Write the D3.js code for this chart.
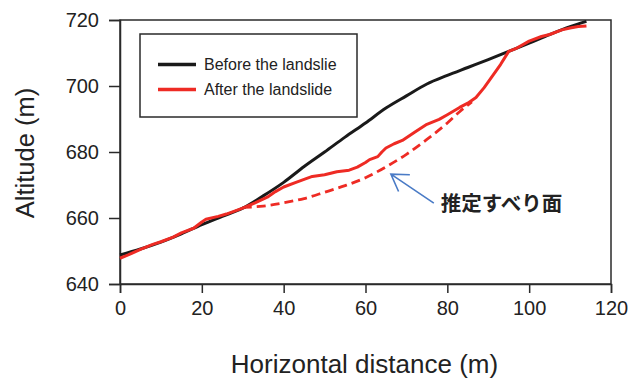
<!DOCTYPE html>
<html><head><meta charset="utf-8">
<script src="https://cdn.jsdelivr.net/npm/d3@7"></script>
<style>body{margin:0;background:#fff}svg{display:block}</style>
</head><body>
<svg id="c" width="644" height="381"></svg>
<script>
const xTicks = [0,20,40,60,80,100,120];
const yTicks = [640,660,680,700,720];
const beforeX = [0,5,10,15,20,25,30,35,40,45,50,55,60,65,70,75,80,85,90,95,100,105,110,114];
const beforeY = [648.8,650.6,652.7,655.2,658,660.5,663,666.7,670.8,675.6,680,684.5,688.8,693.3,697,700.6,703.2,705.6,708,710.5,713,715.6,718,719.6];
const afterX = [0,2,5,8,10,13,15,18,20,21,24,26,30,33,36,38,40,43,45,47,50,53,56,58,60,61,63,64,65,67,69,72,75,78,80,83,85,87,89,91,93,95,97,100,103,105,108,110,112,114];
const afterY = [647.8,648.8,650.5,652,652.8,654.2,655.5,656.9,658.8,659.6,660.5,661.2,663,664.6,666.3,668,669.4,670.8,671.7,672.6,673.1,674,674.5,675.4,676.8,677.7,678.6,680,681.2,682.5,683.5,686,688.4,689.9,691.3,693.5,694.8,696.5,699.5,703,706.5,710.5,711.5,713.6,715,715.6,717,717.6,718,718.2];
const slipX = [30,35,40,45,50,55,60,65,70,75,80,83,86];
const slipY = [663.2,663.6,664.6,665.9,667.8,669.8,672.2,675.5,679.3,683.8,688.8,692.2,695.2];
const legendLabels = ["Before the landslie","After the landslide"];
const annotation = "推定すべり面";

const svg = d3.select("#c");
const L=120,R=611,T=20,B=284;
const x = d3.scaleLinear().domain([0,120]).range([L,R]);
const y = d3.scaleLinear().domain([640,720]).range([B,T]);
const font = "Arial, 'Liberation Sans', sans-serif";
const axc = "#2a2a2a";

svg.append("rect").attr("x",L).attr("y",T).attr("width",R-L).attr("height",B-T)
  .attr("fill","none").attr("stroke",axc).attr("stroke-width",1.5);

const xa = svg.append("g").attr("transform",`translate(0,${B})`)
  .call(d3.axisBottom(x).tickValues(xTicks).tickSize(9).tickPadding(8).tickFormat(d3.format("d")));
const ya = svg.append("g").attr("transform",`translate(${L},0)`)
  .call(d3.axisLeft(y).tickValues(yTicks).tickSize(11).tickPadding(10).tickFormat(d3.format("d")));
[xa,ya].forEach(a=>{
  a.select(".domain").attr("stroke",axc).attr("stroke-width",1.5);
  a.selectAll(".tick line").attr("stroke",axc).attr("stroke-width",1.5);
  a.selectAll(".tick text").attr("font-family",font).attr("font-size",20).attr("fill","#222");
});

const line = d3.line().x(d=>x(d[0])).y(d=>y(d[1]));
const smooth = d3.line().x(d=>x(d[0])).y(d=>y(d[1])).curve(d3.curveMonotoneX);

svg.append("path").datum(slipX.map((v,i)=>[v,slipY[i]])).attr("d",smooth)
  .attr("fill","none").attr("stroke","#ee2b24").attr("stroke-width",2.8).attr("stroke-dasharray","9,5");
svg.append("path").datum(beforeX.map((v,i)=>[v,beforeY[i]])).attr("d",smooth)
  .attr("fill","none").attr("stroke","#1a1a1a").attr("stroke-width",3);
svg.append("path").datum(afterX.map((v,i)=>[v,afterY[i]])).attr("d",line)
  .attr("fill","none").attr("stroke","#ee2b24").attr("stroke-width",3).attr("stroke-linejoin","round");

svg.append("rect").attr("x",140).attr("y",34).attr("width",217).attr("height",83)
  .attr("fill","#fff").attr("stroke",axc).attr("stroke-width",1.5);
const lc = ["#1a1a1a","#ee2b24"];
legendLabels.forEach((t,i)=>{
  const yy = 64.5 + i*25;
  svg.append("line").attr("x1",158).attr("x2",196).attr("y1",yy).attr("y2",yy)
    .attr("stroke",lc[i]).attr("stroke-width",3.5);
  svg.append("text").attr("x",204).attr("y",yy+5.5).attr("font-family",font)
    .attr("font-size",16).attr("fill","#222").text(t);
});

const tip=[x(66.2),y(673.3)], tail=[x(76.7),y(664.5)];
const ang = Math.atan2(tail[1]-tip[1], tail[0]-tip[0]);
const hl=19, ha=32*Math.PI/180;
const a1=[tip[0]+hl*Math.cos(ang-ha), tip[1]+hl*Math.sin(ang-ha)];
const a2=[tip[0]+hl*Math.cos(ang+ha), tip[1]+hl*Math.sin(ang+ha)];
svg.append("path").attr("d",`M${tail[0]},${tail[1]}L${tip[0]},${tip[1]}M${a1[0]},${a1[1]}L${tip[0]},${tip[1]}L${a2[0]},${a2[1]}`)
  .attr("fill","none").attr("stroke","#4a7bc6").attr("stroke-width",1.6);
svg.append("text").attr("x",x(78.4)).attr("y",y(662.1)).attr("font-family","'Noto Sans CJK JP', sans-serif")
  .attr("font-weight","bold").attr("font-size",20.5).attr("fill","#222").text(annotation);

svg.append("text").attr("x",(L+R)/2-1).attr("y",373).attr("text-anchor","middle")
  .attr("font-family",font).attr("font-size",26).attr("fill","#222").text("Horizontal distance (m)");
svg.append("text").attr("transform","translate(34,153) rotate(-90)").attr("text-anchor","middle")
  .attr("font-family",font).attr("font-size",25.5).attr("fill","#222").text("Altitude (m)");
</script>
</body></html>
